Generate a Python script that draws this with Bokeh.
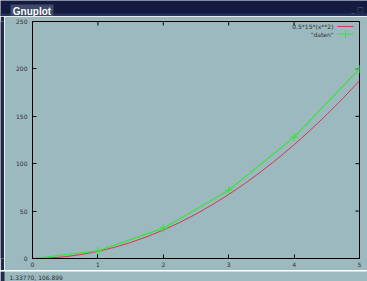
import math
from bokeh.plotting import figure
from bokeh.models import LinearAxis, BoxAnnotation, Label, FixedTicker, Range1d
from bokeh.layouts import column, row
from bokeh.core.properties import value
from bokeh.embed import file_html
from bokeh.resources import INLINE

# ---- data ----
func_label = "0.5*15*(x**2)"
data_label = '"daten"'
func_x = [0, 0.25, 0.5, 0.75, 1, 1.25, 1.5, 1.75, 2, 2.25, 2.5, 2.75, 3, 3.25, 3.5, 3.75, 4, 4.25, 4.5, 4.75, 5]
func_y = [0, 0.47, 1.88, 4.22, 7.5, 11.72, 16.88, 22.97, 30, 37.97, 46.88, 56.72, 67.5,
          79.22, 91.88, 105.47, 120, 135.47, 151.88, 169.22, 187.5]
daten_x = [0, 1, 2, 3, 4, 5]
daten_y = [0, 8, 32, 72, 128, 200]
x_ticks = [0, 1, 2, 3, 4, 5]
y_ticks = [0, 50, 100, 150, 200, 250]
window_title = "Gnuplot"
status_text = "1.33770,  106.899"

BG = "#9cb9bf"
BAR = "#151b40"
STRIP = "#222c46"
FONT = "DejaVu Sans"
TXT = "#2e2e2e"
SMALL = "6px"
TOTAL_W, TOP_H, STRIP_W = 367, 16, 4
MAIN_W, MAIN_H, STATUS_H = TOTAL_W - STRIP_W, 254, 11


def chrome_fig(w, h, color):
    f = figure(width=w, height=h, output_backend="svg", toolbar_location=None,
               x_range=Range1d(0, w), y_range=Range1d(h, 0),
               x_axis_type=None, y_axis_type=None, min_border=0,
               background_fill_color=color, border_fill_color=color, margin=0)
    f.grid.visible = False
    f.outline_line_color = None
    return f


# ---- window title bar ----
top = chrome_fig(TOTAL_W, TOP_H, BAR)
top.quad(left=[0], right=[TOTAL_W], top=[13], bottom=[TOP_H], fill_color="#28335c", line_alpha=0)
top.quad(left=[10], right=[53], top=[4], bottom=[TOP_H], fill_color="#3e4a68", line_alpha=0)
top.text(x=[31.5], y=[10.5], text=[window_title], text_color="white",
         text_font=value("Liberation Sans"), text_font_style="bold", text_font_size="10px",
         text_align="center", text_baseline="middle")
top.text(x=[357], y=[9], text=["_ \u25a1"], text_color="#56668a",
         text_font=value(FONT), text_font_size="7px", text_align="center", text_baseline="middle")

# ---- left window border beside the plot ----
strip = chrome_fig(STRIP_W, MAIN_H, STRIP)

# ---- main plot ----
p = figure(width=MAIN_W, height=MAIN_H, output_backend="svg", toolbar_location=None,
           x_range=Range1d(0, 5), y_range=Range1d(0, 250),
           min_border_left=28, min_border_right=8, min_border_top=5, min_border_bottom=12,
           background_fill_color=BG, border_fill_color=BG, x_axis_type=None, y_axis_type=None,
           margin=0)
p.grid.visible = False
p.outline_line_color = "black"
p.outline_line_width = 1


def mk_axis(ticks):
    ax = LinearAxis(ticker=FixedTicker(ticks=ticks))
    ax.axis_line_color = "black"
    ax.major_tick_in = 4
    ax.major_tick_out = 0
    ax.minor_tick_line_color = None
    ax.major_tick_line_color = "black"
    ax.major_label_text_font = FONT
    ax.major_label_text_color = TXT
    ax.major_label_text_font_size = SMALL
    return ax


bx = mk_axis(x_ticks); bx.major_label_standoff = 3
ly = mk_axis(y_ticks); ly.major_label_standoff = 5
p.add_layout(bx, "below")
p.add_layout(ly, "left")

# mirrored inward ticks on the top and right border (outer half clipped by the frame)
p.scatter(x_ticks, [y_ticks[-1]] * len(x_ticks), marker="dash", angle=math.pi / 2, size=8,
          line_color="black", line_width=1)
p.scatter([x_ticks[-1]] * len(y_ticks), y_ticks, marker="dash", size=8,
          line_color="black", line_width=1)

RED = "#cc3a4c"
GREEN = "#3ee03e"
p.line(func_x, func_y, line_color=RED, line_width=1)
p.line(daten_x, daten_y, line_color=GREEN, line_width=1.2)
p.scatter(daten_x, daten_y, marker="cross", size=8, line_color=GREEN, line_width=1.2)


def cbox(l, r, t, b, color):
    p.add_layout(BoxAnnotation(left=l, right=r, top=t, bottom=b,
                               left_units="canvas", right_units="canvas",
                               top_units="canvas", bottom_units="canvas",
                               fill_color=color, fill_alpha=1, line_alpha=0, level="overlay"))


# legend (gnuplot style: text then sample)
p.add_layout(Label(x=329, y=10, x_units="canvas", y_units="canvas", text=func_label,
                   text_font=FONT, text_font_size=SMALL, text_color=TXT,
                   text_align="right", text_baseline="middle"))
p.add_layout(Label(x=329, y=18, x_units="canvas", y_units="canvas", text=data_label,
                   text_font=FONT, text_font_size=SMALL, text_color=TXT,
                   text_align="right", text_baseline="middle"))
cbox(333, 349, 9.5, 10.5, RED)
cbox(333, 349, 17, 18, GREEN)
cbox(340.5, 341.5, 13.5, 21.5, GREEN)

# ---- status line (full window width, with its own piece of the left border) ----
status = chrome_fig(TOTAL_W, STATUS_H, BG)
status.quad(left=[0], right=[STRIP_W], top=[0], bottom=[STATUS_H], fill_color=STRIP, line_alpha=0)
status.text(x=[9], y=[6], text=[status_text], text_color=TXT,
            text_font=value(FONT), text_font_size=SMALL, text_align="left", text_baseline="middle")

layout = column(top, row(strip, p, spacing=0), status, spacing=0)

open("out.html", "w").write(file_html(layout, INLINE))
